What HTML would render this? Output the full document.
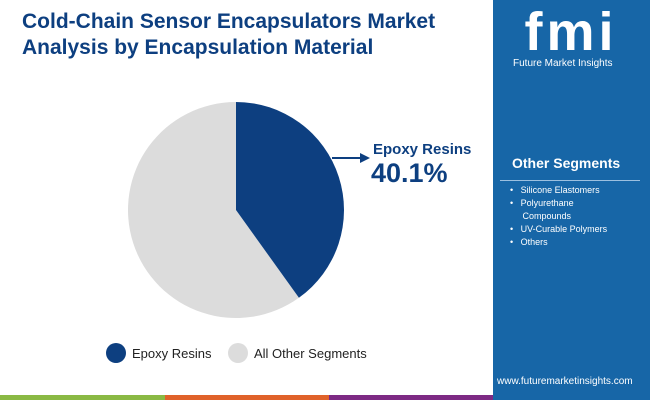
<!DOCTYPE html>
<html><head><meta charset="utf-8"><style>
body{margin:0;width:650px;height:400px;overflow:hidden;background:#fff;font-family:"Liberation Sans",sans-serif;position:relative}
.t{position:absolute;left:22px;top:9px;font-size:21px;font-weight:bold;color:#0d3f80;line-height:26px}
.side{position:absolute;left:493px;top:0;width:157px;height:400px;background:#1766a7;color:#fff}
.bar{position:absolute;top:395px;height:5px}
</style></head><body>
<div class="t">Cold-Chain Sensor Encapsulators Market<br>Analysis by Encapsulation Material</div>
<div class="side">
 <div style="position:absolute;left:20px;top:4px;width:116px;text-align:center;font-size:54px;font-weight:bold;line-height:56px;letter-spacing:4px">fmi</div>
 <div style="position:absolute;left:20px;top:58px;font-size:10px">Future Market Insights</div>
 <div style="position:absolute;left:19px;top:155px;font-size:14px;font-weight:bold">Other Segments</div>
 <div style="position:absolute;left:7px;top:180px;width:140px;height:1px;background:#9cc0e0"></div>
 <div style="position:absolute;left:17px;top:184px;font-size:9px;line-height:13px">
  <div>•&nbsp;&nbsp;&nbsp;Silicone Elastomers</div>
  <div>•&nbsp;&nbsp;&nbsp;Polyurethane<br>&nbsp;&nbsp;&nbsp;&nbsp;&nbsp;Compounds</div>
  <div>•&nbsp;&nbsp;&nbsp;UV-Curable Polymers</div>
  <div>•&nbsp;&nbsp;&nbsp;Others</div>
 </div>
 <div style="position:absolute;left:4px;top:376px;font-size:10px">www.futuremarketinsights.com</div>
</div>
<svg id="c" width="493" height="395" style="position:absolute;left:0;top:0">
 <defs><marker id="ah" markerWidth="5" markerHeight="5" refX="4" refY="2.5" orient="auto"><path d="M0,0 L5,2.5 L0,5 z" fill="#0d3f80"/></marker></defs>
 <line x1="332" y1="158" x2="368" y2="158" stroke="#0d3f80" stroke-width="2" marker-end="url(#ah)"/>
 <text x="373" y="154" font-size="15" font-weight="bold" fill="#0d3f80">Epoxy Resins</text>
 <text x="371" y="182" font-size="27" font-weight="bold" fill="#0d3f80">40.1%</text>
 <circle cx="116" cy="353" r="10" fill="#0d3f80"/>
 <text x="132" y="358" font-size="13" fill="#222">Epoxy Resins</text>
 <circle cx="238" cy="353" r="10" fill="#dcdcdc"/>
 <text x="254" y="358" font-size="13" fill="#222">All Other Segments</text>
</svg>
<div class="bar" style="left:0;width:165px;background:#8ab944"></div>
<div class="bar" style="left:165px;width:164px;background:#e0622a"></div>
<div class="bar" style="left:329px;width:164px;background:#7d2a84"></div>
<script>
const categories=["Epoxy Resins","All Other Segments"];
const shares=[40.1,59.9];
const colors=["#0d3f80","#dcdcdc"];
const names=["slice-epoxy-resins","slice-all-other-segments"];
const svg=document.getElementById('c');
const cx=236,cy=210,r=108;
const total=shares.reduce((a,b)=>a+b,0);
let a0=0;
function pt(a){return [cx+r*Math.sin(a),cy-r*Math.cos(a)];}
shares.forEach((v,i)=>{
 const a1=a0+v/total*2*Math.PI;
 const p0=pt(a0),p1=pt(a1);
 const large=(a1-a0)>Math.PI?1:0;
 const p=document.createElementNS('http://www.w3.org/2000/svg','path');
 p.setAttribute('d',`M${cx},${cy} L${p0[0]},${p0[1]} A${r},${r} 0 ${large} 1 ${p1[0]},${p1[1]} Z`);
 p.setAttribute('fill',colors[i]);
 
 
 svg.insertBefore(p,svg.firstChild.nextSibling);
 a0=a1;
});
</script>
</body></html>
